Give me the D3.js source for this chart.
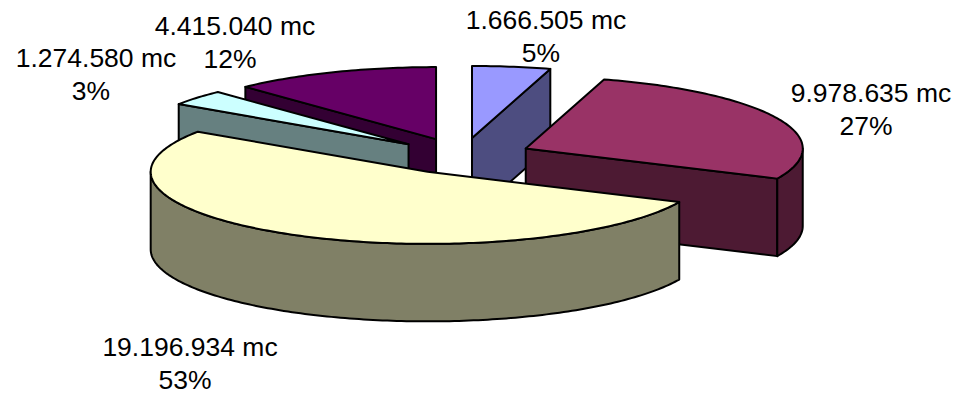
<!DOCTYPE html>
<html>
<head>
<meta charset="utf-8">
<script src="https://cdn.jsdelivr.net/npm/d3@7/dist/d3.min.js"></script>
<style>
  html, body { margin: 0; padding: 0; background: #fff; }
  svg { display: block; }
  text { font-family: "Liberation Sans", Arial, sans-serif; font-size: 25px; fill: #000; }
</style>
</head>
<body>
<svg id="chart" width="956" height="397"></svg>
<script>
// Surface per category, in cubic metres, clockwise from twelve o'clock.
const volumes = [1666505, 9978635, 19196934, 1274580, 4415040];
const topColors = ["#9999ff", "#993366", "#ffffcc", "#ccffff", "#660066"];
const wallColors = ["#4d4d80", "#4d1a33", "#808066", "#668080", "#330033"];
const paintOrder = [0, 4, 3, 1, 2];           // back slices first
const labelAnchors = [[546, 29], [871, 102], [190, 356], [96, 67], [235, 35]];

const width = 956, height = 397;
const centre = { x: 462, y: 156 };
const radiusX = 277, radiusY = 72, depth = 77.5, explode = 0.2527;
const lineGap = 33, shareShift = -5, textStretch = 1.06, edgeWidth = 2;

const svg = d3.select("#chart");
const pie = d3.pie().sort(null).value(d => d);
const slices = pie(volumes);
const total = d3.sum(volumes);

const thousands = d3.formatLocale({ decimal: ",", thousands: ".", grouping: [3], currency: ["", ""] }).format(",d");
const project = (angle, r = 1) => [radiusX * r * Math.sin(angle), -radiusY * r * Math.cos(angle)];
const outline = d3.line();

// Points along the rim between two angles, about one per degree.
function rim(a0, a1) {
  const n = Math.max(2, Math.ceil(Math.abs(a1 - a0) * 180 / Math.PI));
  return d3.range(n + 1).map(i => project(a0 + (a1 - a0) * i / n));
}
const drop = pts => pts.map(([x, y]) => [x, y + depth]);

const edged = (sel, fill) => sel
  .attr("fill", fill)
  .attr("stroke", "#000")
  .attr("stroke-width", edgeWidth)
  .attr("stroke-linejoin", "round");

paintOrder.forEach(i => {
  const s = slices[i];
  const mid = (s.startAngle + s.endAngle) / 2;
  const [ox, oy] = project(mid, explode);
  const g = svg.append("g").attr("transform", `translate(${centre.x + ox},${centre.y + oy})`);

  // Radial side walls that face the viewer.
  if (Math.sin(s.startAngle) < 0) {
    const edge = [[0, 0], project(s.startAngle)];
    g.append("path").attr("d", outline([...edge, ...drop(edge).reverse()]) + "Z").call(edged, wallColors[i]);
  }
  if (Math.sin(s.endAngle) > 0) {
    const edge = [[0, 0], project(s.endAngle)];
    g.append("path").attr("d", outline([...edge, ...drop(edge).reverse()]) + "Z").call(edged, wallColors[i]);
  }

  // Outer wall along the front half of the rim.
  const a0 = Math.max(s.startAngle, Math.PI / 2);
  const a1 = Math.min(s.endAngle, 3 * Math.PI / 2);
  if (a1 > a0) {
    const arc = rim(a0, a1);
    g.append("path").attr("d", outline([...arc, ...drop(arc).reverse()]) + "Z").call(edged, wallColors[i]);
  }

  // Top face.
  g.append("path")
    .attr("d", outline([[0, 0], ...rim(s.startAngle, s.endAngle)]) + "Z")
    .call(edged, topColors[i]);
});

// Two-line labels: amount and share.
const labels = svg.append("g").selectAll("g").data(volumes).join("g")
  .attr("transform", (d, i) => `translate(${labelAnchors[i][0]},${labelAnchors[i][1]})`)
  .attr("text-anchor", "middle");
labels.append("text")
  .attr("transform", `scale(${textStretch},1)`)
  .text(d => `${thousands(d)} mc`);
labels.append("text")
  .attr("transform", `translate(${shareShift},${lineGap}) scale(${textStretch},1)`)
  .text(d => `${Math.round(d / total * 100)}%`);
</script>
</body>
</html>
